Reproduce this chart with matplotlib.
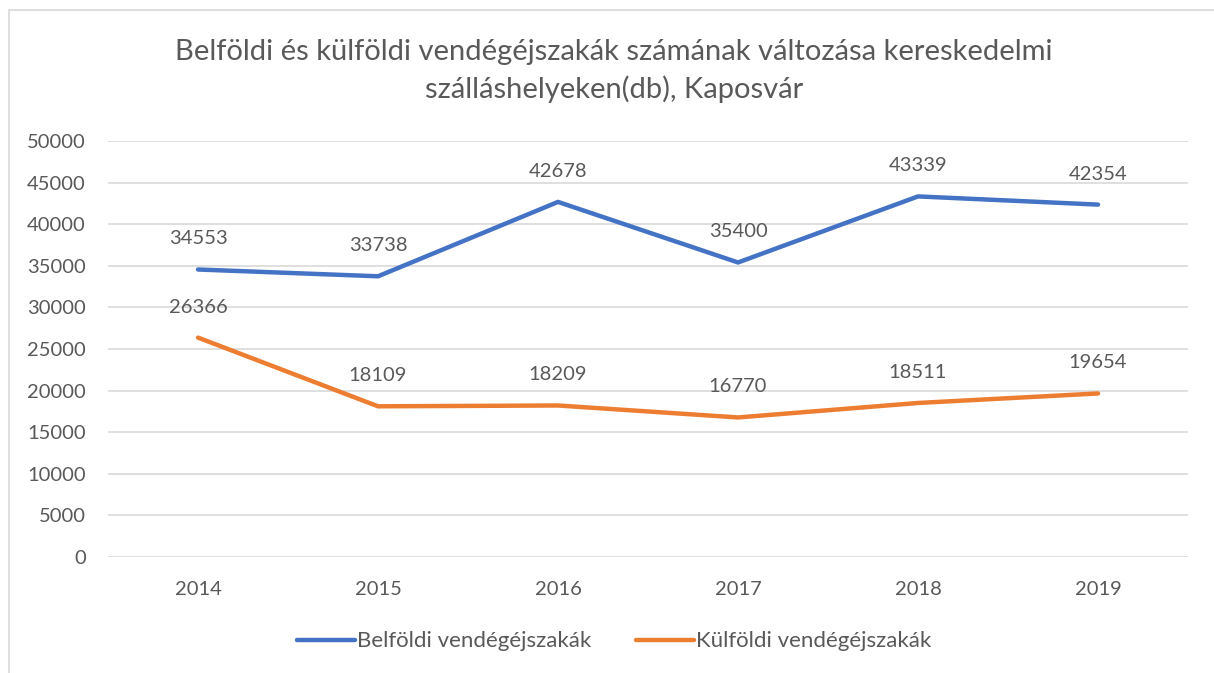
import matplotlib.pyplot as plt
from matplotlib.patches import Rectangle

years = ['2014', '2015', '2016', '2017', '2018', '2019']
belfoldi = [34553, 33738, 42678, 35400, 43339, 42354]
kulfoldi = [26366, 18109, 18209, 16770, 18511, 19654]

blue = '#4472C4'
orange = '#ED7D31'
text_color = '#595959'

plt.rcParams['font.family'] = ['Lato', 'DejaVu Sans']

fig = plt.figure(figsize=(12.14, 6.73), dpi=100)
ax = fig.add_axes([0.089, 0.1724, 0.8896, 0.6181])

x = list(range(len(years)))
ax.plot(x, belfoldi, color=blue, linewidth=3.2, solid_capstyle='round',
        label='Belföldi vendégéjszakák', zorder=3)
ax.plot(x, kulfoldi, color=orange, linewidth=3.2, solid_capstyle='round',
        label='Külföldi vendégéjszakák', zorder=3)

for xi, v in zip(x, belfoldi):
    ax.annotate(str(v), (xi, v), xytext=(0, 22), textcoords='offset points',
                ha='center', va='center', fontsize=14.5, color=text_color)
for xi, v in zip(x, kulfoldi):
    ax.annotate(str(v), (xi, v), xytext=(0, 22), textcoords='offset points',
                ha='center', va='center', fontsize=14.5, color=text_color)

ax.set_xlim(-0.5, len(years) - 0.5)
ax.set_ylim(0, 50000)
ax.set_yticks(range(0, 50001, 5000))
ax.set_xticks(x)
ax.set_xticklabels(years)
ax.tick_params(axis='both', length=0, labelsize=14.5, colors=text_color)
ax.tick_params(axis='y', pad=16)
ax.tick_params(axis='x', pad=17)
ax.yaxis.grid(True, color='#D9D9D9', linewidth=1.2)
ax.set_axisbelow(True)
for s in ax.spines.values():
    s.set_visible(False)

fig.text(0.5058, 0.8945, 'Belföldi és külföldi vendégéjszakák számának változása kereskedelmi\nszálláshelyeken(db), Kaposvár',
         ha='center', va='center', fontsize=21, color=text_color, linespacing=1.45)

leg = fig.legend(loc='center', bbox_to_anchor=(0.5058, 0.047), ncol=2, frameon=False,
                 fontsize=16, handlelength=2.6, handletextpad=0.1, columnspacing=2.0)
for t in leg.get_texts():
    t.set_color(text_color)

fig.patches.append(Rectangle((0.0074, -0.05), 1.2, 1.035, transform=fig.transFigure,
                             fill=False, edgecolor='#D9D9D9', linewidth=1.2))

fig.savefig('out.png', dpi=100)
